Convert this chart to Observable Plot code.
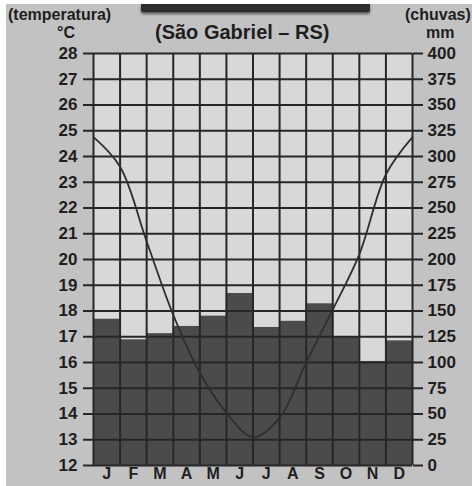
<!DOCTYPE html>
<html>
<head>
<meta charset="utf-8">
<script src="https://cdn.jsdelivr.net/npm/d3@7"></script>
<script src="https://cdn.jsdelivr.net/npm/@observablehq/plot@0.6"></script>
<style>
  html, body { margin: 0; padding: 0; background: #ffffff; }
  #page { position: relative; width: 472px; height: 486px; overflow: hidden; background: #fff; }
  #paper { position: absolute; left: 6px; top: 4px; width: 466px; height: 482px; background: #c2c2c2; }
  #band { position: absolute; left: 141px; top: 4px; width: 229px; height: 8px; background: #2e2e2e; box-shadow: 0 2px 3px #555; border-radius: 0 0 2px 2px; }
  .lbl { position: absolute; font-family: "Liberation Sans", Arial, sans-serif; font-weight: bold; color: #1e1e1e; white-space: nowrap; }
  #chart { position: absolute; left: 0; top: 0; }
</style>
</head>
<body>
<div id="page">
  <div id="paper"></div>
  <div id="band"></div>
  <div id="chart"></div>
  <div class="lbl" style="left:8px; top:6px; font-size:16px;">(temperatura)</div>
  <div class="lbl" style="left:57px; top:24px; font-size:16px;">°C</div>
  <div class="lbl" style="left:155px; top:21px; font-size:20px;">(São Gabriel – RS)</div>
  <div class="lbl" style="left:405px; top:6px; font-size:16px;">(chuvas)</div>
  <div class="lbl" style="left:426px; top:24px; font-size:16px;">mm</div>
</div>
<script>
const months = ["J","F","M","A","M","J","J","A","S","O","N","D"];
const rainfall = [142, 122, 128, 135, 145, 167, 134, 140, 157, 125, 101, 121];
// temperature curve read at the month boundaries (Jan start ... Dec end)
const temperature = [24.75, 23.6, 20.7, 17.85, 15.6, 14.05, 13.1, 13.85, 16.0, 18.05, 20.2, 23.3, 24.75];
const tempTicks = [12,13,14,15,16,17,18,19,20,21,22,23,24,25,26,27,28];
const rainTicks = [0,25,50,75,100,125,150,175,200,225,250,275,300,325,350,375,400];

const mmPerDegree = 25;
const bars = rainfall.map((mm, i) => ({i, mm, month: months[i]}));
const tempPts = temperature.map((t, k) => ({k, t}));
const ink = "#262626";

const chart = Plot.plot({
  width: 472,
  height: 486,
  marginTop: 53,
  marginBottom: 21,
  marginLeft: 93,
  marginRight: 60,
  style: {background: "transparent", fontFamily: "Liberation Sans, Arial, sans-serif", fontSize: "17px", fontWeight: "bold", color: "#1e1e1e", overflow: "visible"},
  x: {type: "linear", domain: [0, 12], axis: null},
  y: {type: "linear", domain: [12, 28], axis: null},
  marks: [
    Plot.rect([0], {x1: 0, x2: 12, y1: 12, y2: 28, fill: "#d8d8d8"}),
    Plot.rect(bars, {x1: d => d.i, x2: d => d.i + 1, y1: 12, y2: d => 12 + d.mm / mmPerDegree, fill: "#4b4b4b"}),
    Plot.gridX(d3.range(13), {stroke: ink, strokeOpacity: 1, strokeWidth: 2}),
    Plot.gridY(tempTicks, {stroke: ink, strokeOpacity: 1, strokeWidth: 2}),
    Plot.axisY(tempTicks, {anchor: "left", tickSize: 10, tickPadding: 6, stroke: ink, strokeWidth: 2, label: null, tickFormat: d => d}),
    Plot.axisY(rainTicks.map(mm => 12 + mm / mmPerDegree), {anchor: "right", tickSize: 10, tickPadding: 5, stroke: ink, strokeWidth: 2, label: null, tickFormat: d => Math.round((d - 12) * mmPerDegree)}),
    Plot.axisX(d3.range(12).map(i => i + 0.5), {anchor: "bottom", tickSize: 0, tickPadding: 2, fontSize: 16, label: null, tickFormat: d => months[Math.floor(d)]}),
    Plot.line(tempPts, {x: "k", y: "t", curve: "catmull-rom", stroke: "#2e2e2e", strokeWidth: 1.8})
  ]
});
document.getElementById("chart").appendChild(chart);
</script>
</body>
</html>
